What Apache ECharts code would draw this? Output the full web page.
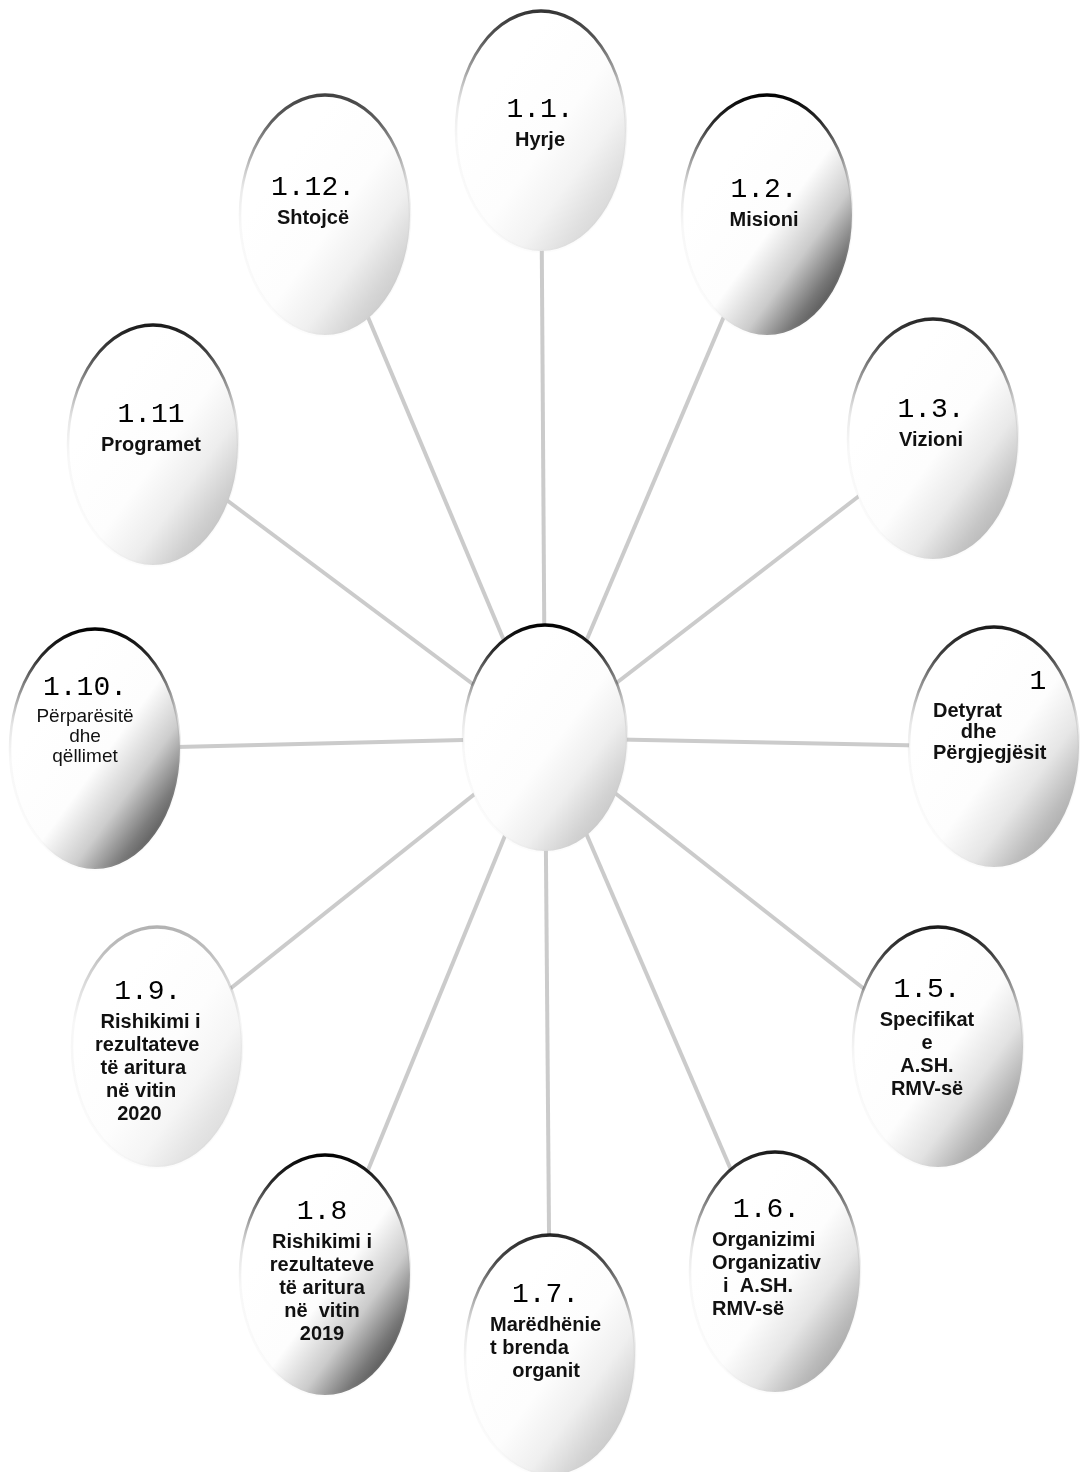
<!DOCTYPE html>
<html>
<head>
<meta charset="utf-8">
<script src="https://cdn.jsdelivr.net/npm/echarts@6/dist/echarts.min.js"></script>
<style>
html,body{margin:0;padding:0;background:#fff;}
#chart{width:1080px;height:1472px;}
</style>
</head>
<body>
<div id="chart"></div>
<script>
// ---- data ----
const nodeNumbers = ['', '1.1.', '1.2.', '1.3.', '1', '1.5.', '1.6.', '1.7.', '1.8', '1.9.', '1.10.', '1.11', '1.12.'];
const nodeTexts = [
  '',
  'Hyrje',
  'Misioni',
  'Vizioni',
  'Detyrat\n     dhe\nPërgjegjësit',
  'Specifikat\ne\nA.SH.\nRMV-së',
  'Organizimi\nOrganizativ\n  i  A.SH.\nRMV-së',
  'Marëdhënie\nt brenda\n    organit',
  'Rishikimi i\nrezultateve\ntë aritura\nnë  vitin\n2019',
  ' Rishikimi i\nrezultateve\n të aritura\n  në vitin\n    2020',
  'Përparësitë\ndhe\nqëllimet',
  'Programet',
  'Shtojcë'
];
// node centres (diagram units, centre node at 0,0)
const nodeX = [0, -4, 222, 388, 449, 393, 230, 5, -220, -388, -450, -392, -220];
const nodeY = [0, 607, 523, 299, -9, -309, -534, -617, -537, -309, -11, 293, 523];
// every branch goes from the centre node to one outer node
const linkSource = [0, 0, 0, 0, 0, 0, 0, 0, 0, 0, 0, 0];
const linkTarget = [1, 2, 3, 4, 5, 6, 7, 8, 9, 10, 11, 12];

// ---- styles (kept apart from data) ----
const shade = ['#bcbcbc', '#cfcfcf', '#2e2e2e', '#a8a8a8', '#9a9a9a', '#8a8a8a', '#969696', '#bdbdbd', '#303030', '#d6d6d6', '#353535', '#b6b6b6', '#c0c0c0'];
const nodeSize = [[164, 226]];
const outerSize = [170, 240];
const labelAlign = ['center', 'center', 'center', 'center', 'left', 'center', 'left', 'left', 'center', 'left', 'center', 'center', 'center'];
const labelOffset = [[0, 0], [-1, -40], [-3, -44], [-2, -48], [-61, -84], [-11, -76], [-63, -81], [-60, -79], [-3, -82], [-62, -74], [-10, -80], [-2, -49], [-12, -46]];
const textStyleKey = ['tc', 'tc', 'tc', 'tc', 'tl4', 'tc', 'tl', 'tl', 'tc', 'tl', 'tr10', 'tc', 'tc'];
const numberStyleKey = ['n', 'n', 'n', 'n', 'nr', 'n', 'n', 'n', 'n', 'n', 'n', 'n', 'n'];
const borderStrength = [1, 0.8, 1, 0.85, 0.9, 0.9, 0.9, 0.85, 1, 0.3, 1, 0.9, 0.75];

function mix(hex, t) { // t: 0 -> hex, 1 -> white
  const n = parseInt(hex.slice(1), 16);
  const r = (n >> 16) & 255, g = (n >> 8) & 255, b = n & 255;
  const f = v => Math.round(v + (255 - v) * t);
  return 'rgb(' + f(r) + ',' + f(g) + ',' + f(b) + ')';
}

const ellipsePath = 'path://M100,0 A100,100 0 1,1 100,200 A100,100 0 1,1 100,0 Z';

const nodes = nodeX.map((x, i) => {
  const s = borderStrength[i];
  const fill = new echarts.graphic.LinearGradient(0.3, 0.25, 0.95, 0.92, [
    { offset: 0, color: '#ffffff' },
    { offset: 0.4, color: '#fdfdfd' },
    { offset: 0.62, color: mix(shade[i], 0.75) },
    { offset: 0.8, color: mix(shade[i], 0.35) },
    { offset: 1, color: shade[i] }
  ]);
  const stroke = new echarts.graphic.LinearGradient(0, 0, 0, 1, [
    { offset: 0, color: 'rgba(0,0,0,' + s + ')' },
    { offset: 0.12, color: 'rgba(20,20,20,' + (0.9 * s) + ')' },
    { offset: 0.26, color: 'rgba(70,70,70,' + (0.6 * s) + ')' },
    { offset: 0.4, color: 'rgba(150,150,150,' + (0.25 * s) + ')' },
    { offset: 0.55, color: 'rgba(180,180,180,0.1)' },
    { offset: 1, color: 'rgba(200,200,200,0.05)' }
  ]);
  const lines = nodeTexts[i] ? nodeTexts[i].split('\n') : [];
  const fmt = i === 0 ? '' :
    '{' + numberStyleKey[i] + '|' + nodeNumbers[i] + '}\n' +
    lines.map(l => '{' + textStyleKey[i] + '|' + l + '}').join('\n');
  return {
    name: 'n' + i,
    value: [x, nodeY[i]],
    symbol: ellipsePath,
    symbolSize: i === 0 ? nodeSize[0] : outerSize,
    itemStyle: { color: fill, borderColor: stroke, borderWidth: 3 },
    label: {
      show: i !== 0,
      position: 'inside',
      align: labelAlign[i],
      verticalAlign: 'top',
      offset: labelOffset[i],
      formatter: fmt
    }
  };
});

const links = linkSource.map((s, i) => ({ source: s, target: linkTarget[i] }));

const chart = echarts.init(document.getElementById('chart'), null, { renderer: 'canvas' });
chart.setOption({
  backgroundColor: '#ffffff',
  animation: false,
  grid: { left: 0, right: 0, top: 0, bottom: 0 },
  xAxis: { type: 'value', min: -545, max: 535, show: false },
  yAxis: { type: 'value', min: -734, max: 738, show: false },
  series: [{
    type: 'graph',
    layout: 'none',
    coordinateSystem: 'cartesian2d',
    data: nodes,
    links: links,
    edgeSymbol: ['none', 'none'],
    lineStyle: { color: '#cbcbcb', width: 4, opacity: 1, curveness: 0 },
    emphasis: { disabled: true },
    label: {
      rich: {
        n: { fontFamily: 'Liberation Mono', fontSize: 28, lineHeight: 38, color: '#000', align: 'center' },
        nr: { fontFamily: 'Liberation Mono', fontSize: 28, lineHeight: 38, color: '#000', align: 'right' },
        tc: { fontFamily: 'Liberation Sans', fontWeight: 'bold', fontSize: 20, lineHeight: 23, color: '#111', align: 'center' },
        tl: { fontFamily: 'Liberation Sans', fontWeight: 'bold', fontSize: 20, lineHeight: 23, color: '#111', align: 'left' },
        tl4: { fontFamily: 'Liberation Sans', fontWeight: 'bold', fontSize: 20, lineHeight: 21, color: '#111', align: 'left' },
        tr10: { fontFamily: 'Liberation Sans', fontWeight: 'normal', fontSize: 19, lineHeight: 20, color: '#111', align: 'center' }
      }
    }
  }]
});
</script>
</body>
</html>
